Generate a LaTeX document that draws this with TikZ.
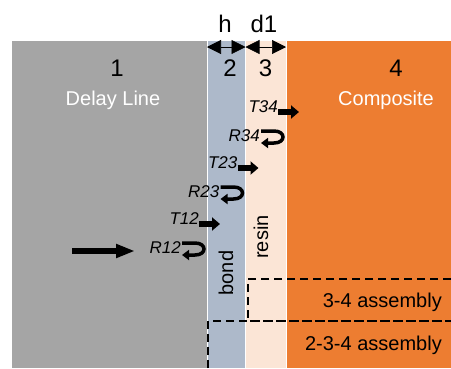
\documentclass[tikz,border=0pt]{standalone}
\usepackage{fontspec}
\setmainfont{Liberation Sans}
\usetikzlibrary{arrows.meta}
\definecolor{delaygray}{RGB}{165,165,165}
\definecolor{bondblue}{RGB}{173,185,202}
\definecolor{resinpeach}{RGB}{251,229,214}
\definecolor{comporange}{RGB}{237,125,49}

\begin{document}
\begin{tikzpicture}[x=1pt, y=-1pt, every node/.style={inner sep=0pt, font=\fontsize{20}{24}\selectfont},
 layer/.style={draw=white, line width=0.6pt},
 num/.style={font=\fontsize{24}{28}\selectfont, anchor=base},
 coef/.style={font=\fontsize{17}{20}\selectfont\itshape, anchor=base east},
 trans/.style={line width=6pt, -{Triangle[length=8pt, width=13pt]}},
 bigtrans/.style={line width=6.5pt, -{Triangle[length=19pt, width=13pt]}},
 refl/.style={line width=3.5pt, -{Triangle[length=7pt, width=10pt]}},
 dim/.style={line width=0.6pt, {Triangle[length=14pt, width=14pt]}-{Triangle[length=14pt, width=14pt]}},
 asm/.style={line width=2.5pt, dash pattern=on 8pt off 5pt}]
\useasboundingbox (0,0) rectangle (451,368);
% layers
\filldraw[layer, fill=delaygray] (11,40) rectangle (207,368);
\filldraw[layer, fill=bondblue] (207,40) rectangle (245.5,368);
\filldraw[layer, fill=resinpeach] (245.5,40) rectangle (286,368);
\filldraw[layer, fill=comporange] (286,40) rectangle (451,368);
% thicknesses
\coordinate (i12) at (207,47);
\coordinate (i23) at (245.5,47);
\coordinate (i34) at (286,47);
\draw[dim] (i12) -- (i23);
\draw[dim] (i23) -- (i34);
\node[num] (hlab) at (225,32) {h};
\node[num] (dlab) at (264,32) {d1};
% layer names
\node[num] (n1) at (117,76) {1};
\node[num] (n2) at (230,76) {2};
\node[num] (n3) at (265.5,76) {3};
\node[num] (n4) at (396,76) {4};
\node[anchor=base, text=white] (delay) at (113,105) {Delay Line};
\node[anchor=base, text=white] (comp) at (386,105) {Composite};
\node[rotate=90] (bond) at (226,273) {bond};
\node[rotate=90] (resin) at (261,237) {resin};
% incident wave
\coordinate (src) at (72,251);
\coordinate (srcend) at (135,251);
\draw[bigtrans] (src) -- (srcend);
% transmission and reflection at each interface
\foreach \x/\y/\n in {207/224/12, 245.5/168/23, 286/112/34}{
 \node[coef] (t\n) at (\x-8,\y) {T\n};
 \coordinate (tend\n) at (\x+13,\y);
 \draw[trans] (t\n.base east) -- (tend\n);
 \node[coef] (r\n) at (\x-26,\y+29) {R\n};
 \draw[refl] (r\n.base east) ++(1,-10) -- ++(13,0) .. controls +(12,0) and +(12,0) .. ++(0,12) -- ++(-13,0);
}
% assemblies
\draw[asm] (451,279) -- (248,279) -- (248,321) -- (451,321);
\draw[asm] (208,368) -- (208,321) -- (451,321);
\node[anchor=base east] (asm34) at (442,307) {3-4 assembly};
\node[anchor=base east] (asm234) at (442,350) {2-3-4 assembly};
\end{tikzpicture}
\end{document}
